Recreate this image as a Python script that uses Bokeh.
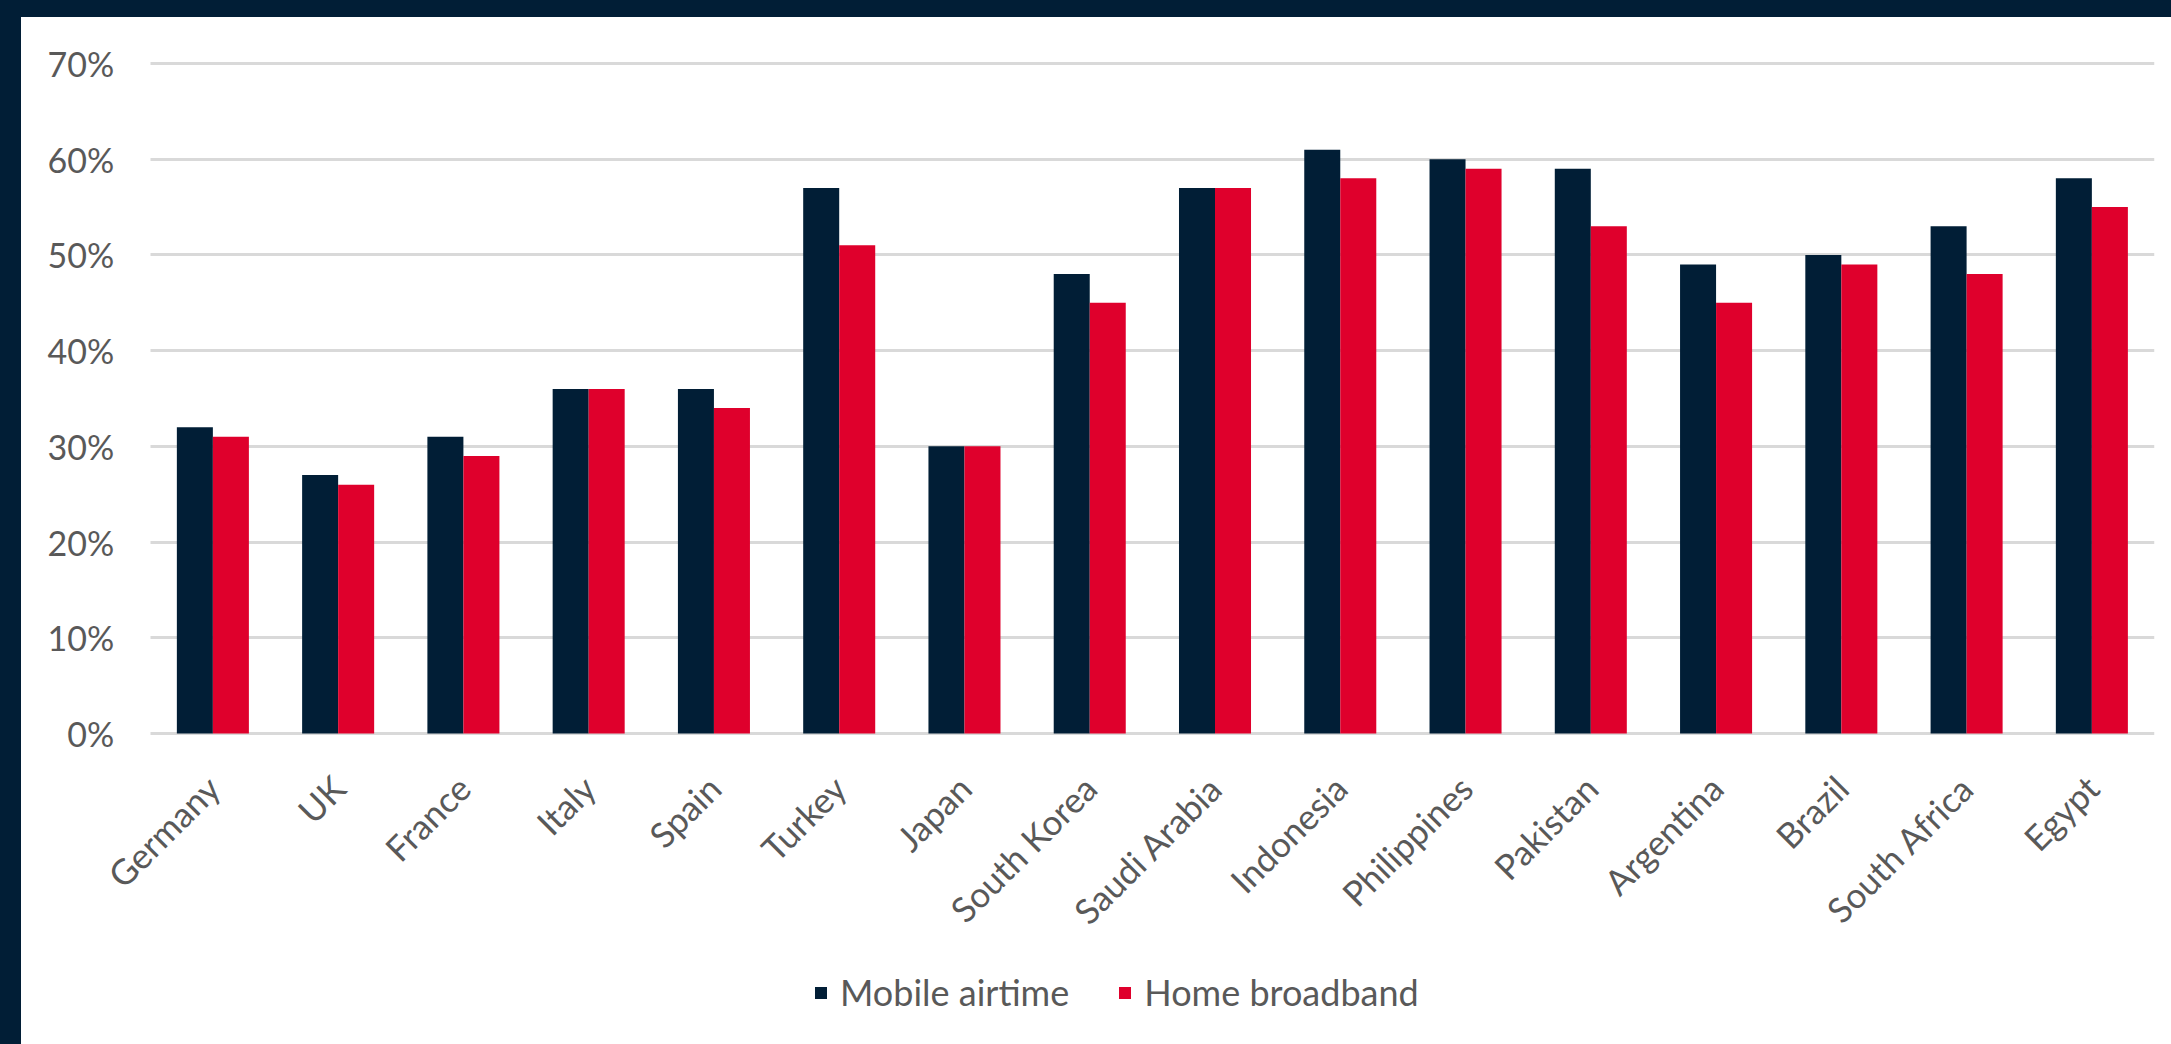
import math
from bokeh.plotting import figure
from bokeh.models import (ColumnDataSource, Range1d, FixedTicker,
                          PrintfTickFormatter, Legend, LegendItem, Div)
from bokeh.layouts import column, row
from bokeh.embed import file_html
from bokeh.resources import INLINE

countries = ["Germany", "UK", "France", "Italy", "Spain", "Turkey", "Japan",
             "South Korea", "Saudi Arabia", "Indonesia", "Philippines", "Pakistan",
             "Argentina", "Brazil", "South Africa", "Egypt"]
mobile_airtime = [32, 27, 31, 36, 36, 57, 30, 48, 57, 61, 60, 59, 49, 50, 53, 58]
home_broadband = [31, 26, 29, 36, 34, 51, 30, 45, 57, 58, 59, 53, 45, 49, 48, 55]
series_names = ["Mobile airtime", "Home broadband"]
y_ticks = [0, 10, 20, 30, 40, 50, 60, 70]

NAVY = "#011e36"
RED = "#df002c"
GRAY_TEXT = "#595959"
FONT = "Lato"

n = len(countries)
centers = [i + 0.5 for i in range(n)]
bar_w = 0.2875
src = ColumnDataSource(dict(
    country=countries,
    x_mobile=[c - bar_w / 2 for c in centers],
    x_home=[c + bar_w / 2 for c in centers],
    mobile=mobile_airtime, home=home_broadband))

# frame reaches from the page's left band down to the page bottom; the axes are
# pinned to the 0 lines so that labels and the legend stay inside it
p = figure(x_range=Range1d(-0.9, n), y_range=Range1d(-32.49, 73.03),
           width=2150, height=1027, output_backend="svg", toolbar_location=None,
           min_border_left=16, min_border_right=17, min_border_top=17, min_border_bottom=0)

r1 = p.vbar(x="x_mobile", top="mobile", width=bar_w, source=src,
            fill_color=NAVY, line_color=None)
r2 = p.vbar(x="x_home", top="home", width=bar_w, source=src,
            fill_color=RED, line_color=None)

p.outline_line_color = None
p.background_fill_color = "white"
p.border_fill_color = "white"

p.xgrid.visible = False
p.ygrid.grid_line_color = "#d9d9d9"
p.ygrid.grid_line_width = 3
p.ygrid.ticker = FixedTicker(ticks=y_ticks)
p.ygrid.cross_bounds = (0, n)

p.yaxis.ticker = FixedTicker(ticks=y_ticks)
p.yaxis.formatter = PrintfTickFormatter(format="%d%%")
p.yaxis.fixed_location = 0
p.yaxis.major_label_standoff = 30

p.xaxis.ticker = FixedTicker(ticks=centers)
p.xaxis.major_label_overrides = {c: name for c, name in zip(centers, countries)}
p.xaxis.fixed_location = 0
p.xaxis.major_label_orientation = math.pi / 4
p.xaxis.major_label_standoff = 42

for ax in (p.xaxis[0], p.yaxis[0]):
    ax.axis_line_color = None
    ax.major_tick_line_color = None
    ax.minor_tick_line_color = None
    ax.major_label_text_font = FONT
    ax.major_label_text_color = GRAY_TEXT
p.yaxis.major_label_text_font_size = "34px"
p.xaxis.major_label_text_font_size = "35px"

legend = Legend(items=[LegendItem(label=series_names[0], renderers=[r1]),
                       LegendItem(label=series_names[1], renderers=[r2])],
                orientation="horizontal", location=(776, 30),
                label_text_font=FONT, label_text_font_size="36px",
                label_text_color=GRAY_TEXT, glyph_width=15, glyph_height=15,
                label_standoff=12, spacing=48, padding=0, margin=0,
                border_line_color=None, background_fill_alpha=0)
p.add_layout(legend)

top_band = Div(text="", width=2171, height=17, margin=(0, 0, 0, 0),
               styles={"background-color": NAVY})
left_band = Div(text="", width=21, height=1027, margin=(0, 0, 0, 0),
                styles={"background-color": NAVY})
layout = column(top_band, row(left_band, p, spacing=0), spacing=0)

open("out.html", "w").write(file_html(layout, INLINE))
